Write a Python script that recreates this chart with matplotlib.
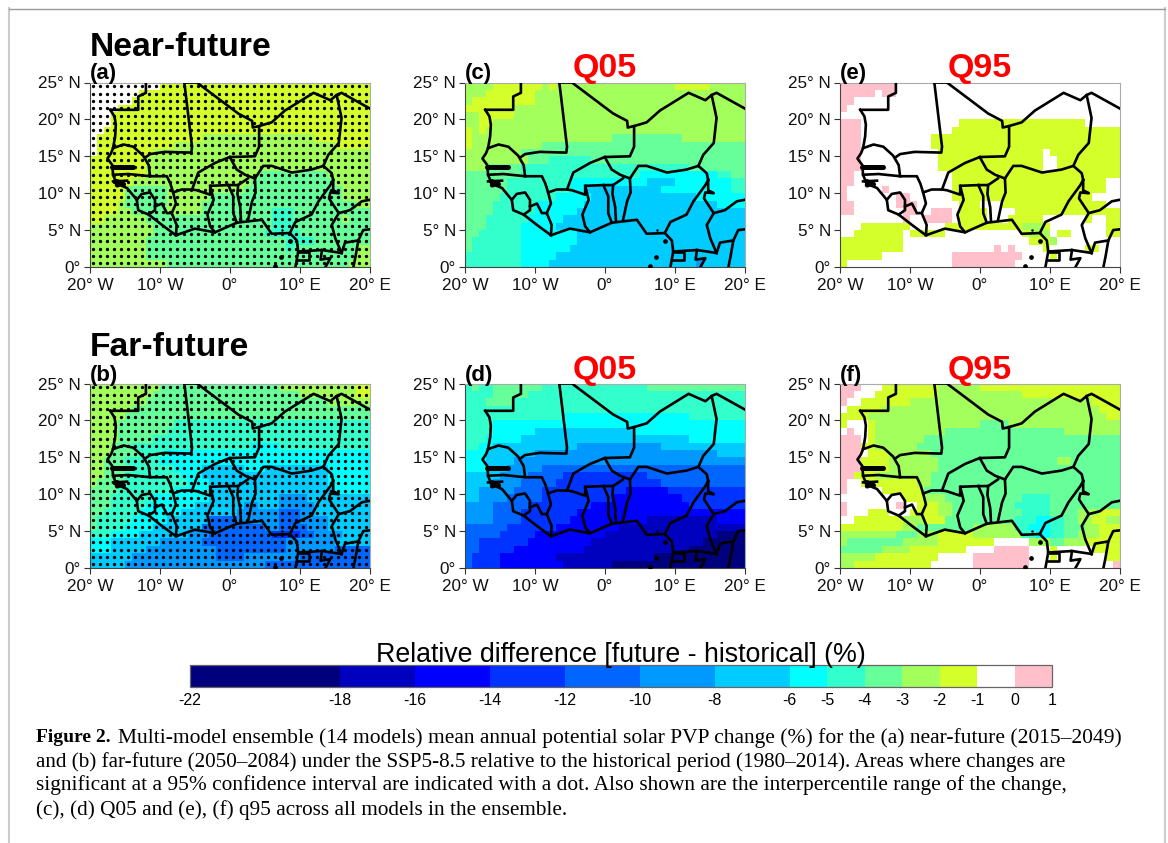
import re
import numpy as np
import matplotlib
matplotlib.use("Agg")
import matplotlib.pyplot as plt
from matplotlib.colors import ListedColormap, BoundaryNorm

plt.rcParams['font.family'] = ['Liberation Sans', 'DejaVu Sans']

BOUNDS = [-22, -18, -16, -14, -12, -10, -8, -6, -5, -4, -3, -2, -1, 0, 1]
COLORS = ['#00007F', '#0000BF', '#0000FF', '#0033FF', '#0066FF', '#0099FF', '#00CCFF',
          '#00FFFF', '#33FFCC', '#66FF99', '#A3FF5C', '#D4FF2A', '#FFFFFF', '#FFC0CB']
CODES = 'ABCDEFGHIJKLMN'
LONS = np.arange(-20, 21)
LATS = np.arange(0, 26)

# run-length coded class per 1-degree row, from 25N-24N down to 1N-0N, west to east
PANEL_A = ["M10L30", "M7L33", "M6L34", "M4L36", "M3L37", "M3L37", "M2L38", "M1L15K16L8", "M1L11K23L5",
           "M1L8K31", "L8K32", "L8K32", "L8K16J10K6", "L6K17J12K5", "L5J6K11J14K4", "L5J6K6J19K4",
           "L4K1J6K5J22K2", "L4K2J5K5J10I3J11", "L2K6J18I3J7K1J3", "K9J17I3J11", "K9J16I5J10",
           "K8J20I4J8", "K8J20I1J9K2", "K8J30K2", "K11J26K3"]
PANEL_B = ["K10J17K11L2", "K9J21K8L2", "K8J26K6", "K6J34", "K5J35", "K4J8I28", "K4J7I29", "K4J5I31",
           "K3J3I17H4I13", "K3J4I4H29", "K2J3I5H30", "K2J4I6H4G6H3G9H6", "K2J3I8H3G18H6", "K1J4I9H3G17H6",
           "J4I8H5G18H5", "J3I6H8G10F4G9", "J3I5H7G7F2G3F5G8", "J2I5H6G8F6E3F2G8", "J1I5H5G6E4F6E3F4G6",
           "J1I4H4G7E9F2E4F3G5", "I3H4G7F3E9D4E2F4G4", "H3G7F6E12F7G5", "H3G5F10E10F7E5", "G6F12E4F8E10",
           "G5F20E15"]
PANEL_C = ["K4L7K1L1K17L5K5", "K3L7K30", "K1L9K30", "L7K33", "K2L5K33", "K2L2K36", "L1K1L1K37", "L1K20J10K9",
           "L1K10J29", "K8J32", "K9J3I6J22", "K3J5I24J8", "J8I17H11I2J2", "J6I9H11G4H8I2", "J6I9H2G11H10I2",
           "J5I8H5G15H7", "J4I6H7G19H4", "J4I6H6G24", "J3I6H5G26", "J3I5H5G27", "J2I6H8G24", "J1I7H8G24",
           "J1I7H7G25", "I8H5G27", "I8H4G21F1G6"]
PANEL_D = ["I1J1I2J7I15J14", "I4J5I31", "I3J4I33", "I40", "I14H18I8", "I4H36", "I4H6G14H16", "I3H5G24H8",
           "I2H2G12F12G12", "H3G7F26G4", "H3G4F33", "H3G3F5E29", "G5F4E5D12E14", "G4F4E5D15E12",
           "G2F5E4D12C6D11", "G2F4E5D10C10D9", "F4E5D9C14D8", "F4E4D8C24", "F4E4D7C11B10C4", "E6D7C9B18",
           "E5D5C10B16A4", "E2D7C9B16A6", "E2D5C10B15A8", "E1D4C8B14A13", "E1D4C9B7A19"]
PANEL_E = ["N8M32", "N5M1N2M32", "N2M38", "N1M39", "M40", "N3M14L18M5", "N3M13L24", "N3M10L27", "N3M10L27",
           "N3M11L15M1L10", "N3M11L15M2L9", "N3M11L15M2L9", "N2M14L24", "N2M14L22M2", "N1M5N1M9L22M2",
           "N1M7N2M6L20M4", "N2M6N3M6L3M3L15M2", "N2M7N2M2N3M1L4M4L15", "M9N1M2N4M1L4M3L5M6L1M2L2",
           "M3L7M5L11K3L1M8L2", "M2L7M1L5M11L1K3M1L2M5L2", "L9M18L3K1M9", "L9M13N1M1N1M4L1M5L2M3",
           "L6M10N10M4L1M9", "L1M15N9M15"]
PANEL_F = ["N3M3L8K6L20", "N2M3L9K12L14", "N1M2L7K26L4", "M1L5K31L3", "L4K34L2", "L1M3L1K15J4K16",
           "M1N1M2L1K10J17K8", "N3M1L1K7J28", "N3L2K6J29", "N3M1L3K6J27", "N3L4K7J17K2J7", "N3L4K7J26",
           "N2L3K8J27", "N1M2L8K2J27", "N1M5L6J28", "M9L3K3J11I4J10", "N1M7N1M2L3K2J9I5J10",
           "N1M3L3M3L4K2J10I4J4K3L3", "M2L7K3L3J10I3H2I2J2K2L2K2", "L9K2J8K6I2H3I2J3K2L3",
           "K8J3K3L5K7I2H2I2J2K3L3", "K1J8K5L8M5K3J2K3L5", "J6K4L8M4N5M3L1M5L4", "K5L9M5N8M3L1M7L2",
           "K2L11M6N8M12N1"]
PANELS = {'a': PANEL_A, 'b': PANEL_B, 'c': PANEL_C, 'd': PANEL_D, 'e': PANEL_E, 'f': PANEL_F}

# country borders (longitude, latitude)
BORDERS = [
    [(-12, 25), (-12, 23.6), (-13.1, 23.1), (-13.1, 21.3), (-17.1, 21.3)],
    [(-17.1, 21.3), (-16.5, 20.4), (-16.3, 19.3), (-16.4, 17.7), (-16.7, 16.1), (-17, 15.4), (-17.5, 14.7),
     (-16.8, 13.8), (-16.7, 12.5), (-16.2, 11.3), (-14.7, 10.7), (-13.3, 9.1), (-13.1, 7.7), (-11.6, 7.1),
     (-9.7, 5.7), (-7.7, 4.3), (-5, 5.2), (-2.1, 4.7), (1, 6), (4.6, 6.4), (6, 4.5), (8.6, 4.6), (9.6, 3.6),
     (9.8, 2.1), (9.4, 0)],
    [(-16.7, 16.1), (-15.2, 16.6), (-13.8, 16.3), (-12.4, 15.1), (-11.6, 13.8), (-11.4, 12.3)],
    [(-16.7, 12.5), (-14.5, 12.6), (-11.4, 12.3), (-9, 12.3), (-8.5, 11.3), (-8.1, 10.1), (-7.7, 8.6),
     (-8.3, 7.3), (-7.6, 5.7), (-7.7, 4.3)],
    [(-16.7, 11.6), (-14.7, 11.7)],
    [(-6.5, 25), (-5.4, 16.3), (-5.5, 15.5), (-9.3, 15.6), (-11.4, 15.3), (-12, 14.9)],
    [(-6.5, 25), (-4.7, 25), (1.2, 20.8), (3.2, 19.8), (3.3, 18.9), (4.2, 19.1), (4.2, 16.3), (3.6, 15),
     (0, 14.9), (-2.1, 14.1), (-4.5, 12.8), (-5.4, 10.5), (-6.9, 10.5), (-8.1, 10.1)],
    [(4.2, 19.1), (6, 19.6), (7.9, 21.2), (12, 23.6), (14.4, 22.6), (15.3, 23.3), (16, 23.6), (20, 21.5)],
    [(15.3, 23.3), (16, 20.2), (15.6, 16.8), (14.1, 15.2), (13.4, 13.7)],
    [(3.6, 12), (4.8, 13.7), (6, 13.7), (8.9, 12.8), (11.7, 13.2), (13.4, 13.7), (14.6, 12.7), (14.8, 11.8)],
    [(0, 14.9), (1, 13.2), (2.2, 12.5), (3.6, 12)],
    [(-5.4, 10.5), (-4.7, 10.4), (-2.8, 9.8), (-2.8, 11), (-0.2, 11.1), (1.2, 11.1), (2.6, 12)],
    [(-2.8, 11), (-2.3, 9.1), (-3.2, 7.1), (-2.8, 5.5), (-2.1, 4.7)],
    [(-0.2, 11.1), (0.5, 9.6), (0.5, 7.3), (1, 6)],
    [(1.2, 11.1), (1.1, 9.9), (1.5, 8.1), (1.6, 6.3)],
    [(3.6, 12), (3.7, 10.1), (3.2, 8.9), (2.6, 6.3)],
    [(-13.3, 9.1), (-12.6, 9.9), (-11.4, 10.1), (-10.7, 9.1), (-10.7, 7.7), (-11.6, 7.1)],
    [(-10.7, 8.2), (-9.7, 8.6), (-9, 7.3), (-8.3, 7.3)],
    [(14.8, 11.8), (14.4, 11.1), (12.7, 8.9), (11.7, 7.1), (9.4, 6.1), (8.6, 4.6)],
    [(14.8, 11.8), (14.8, 10.4), (15.6, 10), (14.4, 10.1), (14.2, 9.3), (15.6, 7.3), (14.6, 5.7), (15.1, 3.9),
     (16, 1.9)],
    [(15.6, 7.3), (17.2, 7.7), (18.9, 8.9), (20, 9.1)],
    [(16, 1.9), (16.5, 3.3), (18.4, 3.6), (18, 1.4), (17.7, 0)],
    [(18.4, 3.6), (19.1, 5), (20, 5.1)],
    [(9.8, 2.1), (13.2, 2.3), (16, 1.9)],
    [(9.8, 2.1), (11.4, 2.1), (11.4, 1), (9.6, 1)],
    [(13.2, 2.3), (13, 1), (14.4, 1.2), (13.7, 0)],
]
THICK_BORDERS = [[(-16.8, 13.5), (-13.8, 13.5)], [(-16.2, 11.6), (-15.2, 11.2)], [(-16.1, 11.1), (-15.6, 11.3)]]
ISLANDS = [(8.6, 3.5), (7.4, 1.4), (6.5, 0.2)]
ISLETS = [(7.5, 5)]

XTICKS = [-20, -10, 0, 10, 20]
XLABELS = ['20° W', '10° W', '0°', '10° E', '20° E']
YTICKS = [0, 5, 10, 15, 20, 25]
YLABELS = ['0°', '5° N', '10° N', '15° N', '20° N', '25° N']
CBAR_TICKS = ['-22', '-18', '-16', '-14', '-12', '-10', '-8', '-6', '-5', '-4', '-3', '-2', '-1', '0', '1']
CAPTION_HEAD = 'Figure 2.'
CAPTION_LINES = [
    'Multi-model ensemble (14 models) mean annual potential solar PVP change (%) for the (a) near-future (2015–2049)',
    'and (b) far-future (2050–2084) under the SSP5-8.5 relative to the historical period (1980–2014). Areas where changes are',
    'significant at a 95% confidence interval are indicated with a dot. Also shown are the interpercentile range of the change,',
    '(c), (d) Q05 and (e), (f) q95 across all models in the ensemble.',
]

W, H = 1168, 843
MIDS = {c: 0.5 * (BOUNDS[i] + BOUNDS[i + 1]) for i, c in enumerate(CODES)}


def decode(rows):
    out = []
    for row in rows:
        vals = []
        for code, n in re.findall(r'([A-N])(\d+)', row):
            vals += [MIDS[code]] * int(n)
        vals = (vals + [vals[-1]] * 40)[:40]
        out.append(vals)
    return np.array(out[::-1])


cmap = ListedColormap(COLORS)
norm = BoundaryNorm(BOUNDS, cmap.N)
fig = plt.figure(figsize=(W / 100, H / 100), dpi=100)


def rect(x0, y0, x1, y1):
    return [x0 / W, 1 - y1 / H, (x1 - x0) / W, (y1 - y0) / H]


def ftext(x, y, s, **kw):
    kw.setdefault('va', 'center')
    return fig.text(x / W, 1 - y / H, s, **kw)


# page frame
frame = fig.add_axes([0, 0, 1, 1], zorder=-5)
frame.set_xlim(0, W)
frame.set_ylim(H, 0)
frame.axis('off')
frame.plot([8.5, 8.5], [8, 843], color='#cccccc', lw=1.5)
frame.plot([1165, 1165], [8, 843], color='#cccccc', lw=1.5)
frame.plot([8.5, 1165], [8.5, 8.5], color='#999999', lw=1.0)

COLS = {'a': 90, 'b': 90, 'c': 465, 'd': 465, 'e': 840, 'f': 840}
ROWS = {'a': 82.5, 'c': 82.5, 'e': 82.5, 'b': 383.5, 'd': 383.5, 'f': 383.5}
mesh = None
for key, rows in PANELS.items():
    x0, y0 = COLS[key], ROWS[key]
    ax = fig.add_axes(rect(x0, y0, x0 + 279.5, y0 + 184.5))
    mesh = ax.pcolormesh(LONS, LATS, decode(rows), cmap=cmap, norm=norm, zorder=1)
    if key in 'ab':
        lon2, lat2 = np.meshgrid(0.5 * (LONS[:-1] + LONS[1:]), 0.5 * (LATS[:-1] + LATS[1:]))
        ax.plot(lon2.ravel(), lat2.ravel(), 'o', color='black', ms=2.4, mew=0, zorder=2)
    for b in BORDERS:
        xs, ys = zip(*b)
        ax.plot(xs, ys, color='black', lw=1.9, zorder=3, solid_joinstyle='round')
    for b in THICK_BORDERS:
        xs, ys = zip(*b)
        ax.plot(xs, ys, color='black', lw=3.6, zorder=3, solid_capstyle='round')
    ax.plot(*zip(*ISLANDS), 'o', color='black', ms=3.4, mew=0, zorder=3)
    ax.plot(*zip(*ISLETS), 'o', color='black', ms=1.8, mew=0, zorder=3)
    ax.set_xlim(-20, 20)
    ax.set_ylim(0, 25)
    ax.set_xticks(XTICKS, XLABELS)
    ax.set_yticks(YTICKS, YLABELS)
    ax.tick_params(length=4.5, width=0.8, labelsize=12.3, color='#333333', labelcolor='#111111')
    ax.tick_params(axis='x', pad=3.5)
    ax.tick_params(axis='y', pad=2)
    for s in ['top', 'right']:
        ax.spines[s].set_color('#aaaaaa')
        ax.spines[s].set_linewidth(0.8)
    for s in ['left', 'bottom']:
        ax.spines[s].set_color('#444444')
        ax.spines[s].set_linewidth(0.8)
    ftext(x0, y0 - 8.5, f'({key})', fontsize=16, fontweight='bold', ha='left')

ftext(90, 47.5, 'Near-future', fontsize=24.2, fontweight='bold', ha='left')
ftext(90, 347.5, 'Far-future', fontsize=24.2, fontweight='bold', ha='left')
for cx in (605, 980):
    for cy in (69, 371):
        label = 'Q05' if cx == 605 else 'Q95'
        ftext(cx, cy, label, fontsize=24.5, fontweight='bold', color='#ff0000', ha='center')

# colour bar
cax = fig.add_axes(rect(190, 665, 1052, 687))
cb = fig.colorbar(mesh, cax=cax, orientation='horizontal', spacing='proportional', ticks=BOUNDS)
cb.ax.set_xticks(BOUNDS, CBAR_TICKS)
cb.ax.tick_params(length=0, labelsize=11.5, pad=4.5)
cb.outline.set_edgecolor('#666666')
cb.outline.set_linewidth(0.9)
ftext(621, 655, 'Relative difference [future - historical] (%)', fontsize=19.3, ha='center')

# caption
SERIF = ['Liberation Serif', 'DejaVu Serif']
ftext(36, 738, CAPTION_HEAD, fontsize=14, fontweight='bold', family=SERIF, ha='left')
ftext(118, 738, CAPTION_LINES[0], fontsize=15.45, family=SERIF, ha='left')
for y, line, size in zip((762, 785, 810), CAPTION_LINES[1:], (15.2, 15.37, 15.3)):
    ftext(36, y, line, fontsize=size, family=SERIF, ha='left')

fig.savefig('out.png', dpi=100)
